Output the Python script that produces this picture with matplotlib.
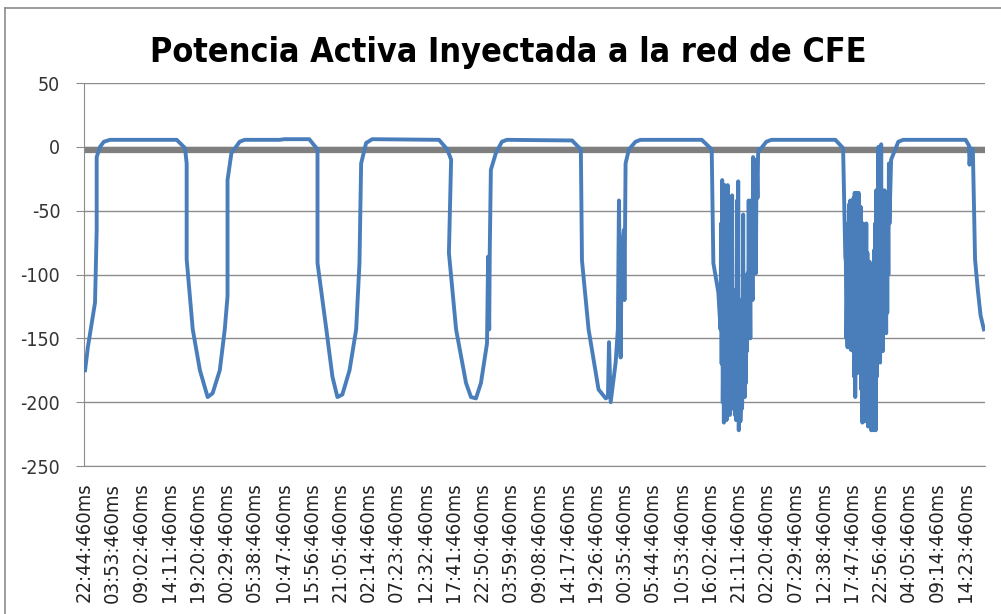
import matplotlib
matplotlib.use("Agg")
import matplotlib.pyplot as plt
from matplotlib.lines import Line2D

plt.rcParams["axes.unicode_minus"] = False

# etiquetas del eje x (cada 5 h 09 min)
etiquetas = [
    "22:44:460ms", "03:53:460ms", "09:02:460ms", "14:11:460ms", "19:20:460ms",
    "00:29:460ms", "05:38:460ms", "10:47:460ms", "15:56:460ms", "21:05:460ms",
    "02:14:460ms", "07:23:460ms", "12:32:460ms", "17:41:460ms", "22:50:460ms",
    "03:59:460ms", "09:08:460ms", "14:17:460ms", "19:26:460ms", "00:35:460ms",
    "05:44:460ms", "10:53:460ms", "16:02:460ms", "21:11:460ms", "02:20:460ms",
    "07:29:460ms", "12:38:460ms", "17:47:460ms", "22:56:460ms", "04:05:460ms",
    "09:14:460ms", "14:23:460ms",
]
paso_h = 5.15  # horas entre etiquetas

# potencia activa (kW) vs horas desde el inicio
horas = [
    0.2, 0.7, 2.0, 2.3, 2.3, 2.9, 3.6, 4.7, 16.8, 18.3, 18.6, 18.6, 19.7, 21.0,
    22.4, 23.3, 24.6, 25.5, 26.0, 26.0, 26.7, 28.2, 29.1, 35.4, 36.3, 40.8,
    42.3, 42.3, 43.9, 45.0, 45.9, 46.8, 48.1, 49.3, 49.9, 50.2, 51.1, 52.2,
    64.3, 65.8, 66.5, 66.1, 67.4, 69.2, 70.1, 71.0, 71.9, 73.0, 73.2, 73.4,
    73.5, 73.7, 74.6, 75.7, 76.6, 88.4, 90.0, 90.2, 91.4, 93.2, 94.5, 94.9,
    95.1, 95.4, 96.3, 96.7, 96.9, 97.0, 97.2, 97.4, 97.8, 97.9, 98.1, 98.7,
    99.9, 100.8, 111.9, 113.7, 114.0, 114.9,
    # tramo con oscilaciones 1
    115.3, 115.4, 115.5, 115.6, 115.7, 115.8, 115.9, 116.0, 116.1, 116.2,
    116.3, 116.4, 116.5, 116.6, 116.7, 116.8, 116.9, 117.0, 117.1, 117.2,
    117.3, 117.4, 117.5, 117.6, 117.7, 117.8, 117.9, 118.0, 118.1, 118.2,
    118.3, 118.4, 118.5, 118.6, 118.7, 118.8, 118.9, 119.0, 119.1, 119.2,
    119.3, 119.4, 119.5, 119.6, 119.7, 119.8, 119.9, 120.0, 120.1, 120.2,
    120.3, 120.4, 120.5, 120.6, 120.7, 120.8, 120.9, 121.0, 121.1, 121.2,
    121.3, 121.4, 121.5, 121.6, 121.7, 121.8, 121.9, 122.0, 122.1, 122.2,
    122.5, 123.6, 124.5, 136.1, 137.5, 137.9,
    # tramo con oscilaciones 2
    138.0, 138.1, 138.2, 138.3, 138.4, 138.5, 138.6, 138.7, 138.8, 138.9,
    139.0, 139.1, 139.2, 139.3, 139.4, 139.5, 139.6, 139.7, 139.8, 139.9,
    140.0, 140.1, 140.2, 140.3, 140.4, 140.5, 140.6, 140.7, 140.8, 140.9,
    141.0, 141.1, 141.2, 141.3, 141.4, 141.5, 141.6, 141.7, 141.8, 141.9,
    142.0, 142.1, 142.2, 142.3, 142.4, 142.5, 142.6, 142.7, 142.8, 142.9,
    143.0, 143.1, 143.2, 143.3, 143.4, 143.5, 143.6, 143.7, 143.8, 143.9,
    144.0, 144.1, 144.2, 144.3, 144.4, 144.5, 144.6, 144.7, 144.8, 144.9,
    145.0, 145.1, 145.2, 145.3, 145.4, 145.5, 145.6, 145.7, 145.8, 145.9,
    146.0, 146.2, 147.5, 148.4,
    159.7, 160.3, 160.4, 160.6, 161.0, 161.4, 161.9, 162.4, 163.0,
]
potencia = [
    -175, -157, -122, -65, -8, 0, 4, 5.5, 5.5, -1, -13, -88, -143, -175,
    -196, -193, -175, -143, -117, -26, -5, 4, 5.5, 5.5, 6, 6,
    -2, -91, -143, -180, -196, -194, -175, -143, -91, -13, 3, 6,
    5.5, -2, -10, -83, -143, -185, -196, -197, -185, -154, -86, -143,
    -81, -18, -5, 4, 5.5, 5, -2, -89, -143, -190, -197, -196,
    -153, -200, -169, -143, -42, -81, -165, -81, -65, -120, -13, -2,
    4, 5.5, 5.5, -2, -91, -114,
    # tramo con oscilaciones 1
    -143, -60, -170, -26, -200, -150, -216, -180, -30, -190,
    -140, -214, -160, -30, -206, -175, -120, -210, -73, -190,
    -150, -38, -205, -160, -200, -112, -210, -130, -214, -170,
    -42, -200, -27, -222, -180, -143, -215, -198, -120, -205,
    -183, -53, -190, -167, -196, -140, -185, -112, -160, -99,
    -150, -42, -130, -99, -150, -42, -99, -60, -120, -8,
    -42, -80, -10, -60, -99, -30, -18, -40, -6, -2,
    -2, 4, 5.5, 5.5, -1, -86,
    # tramo con oscilaciones 2
    -90, -150, -120, -157, -60, -155, -45, -140, -42, -159,
    -100, -150, -50, -160, -40, -180, -36, -196, -120, -36,
    -170, -60, -177, -36, -160, -81, -175, -47, -190, -100,
    -216, -60, -200, -90, -215, -81, -180, -60, -210, -83,
    -219, -104, -200, -90, -214, -120, -222, -100, -220, -150,
    -222, -81, -210, -60, -222, -34, -180, -120, -150, 0,
    -150, -120, -169, -90, 2, -140, -57, -160, -89, -140,
    -34, -120, -81, -146, -42, -130, -40, -100, -13, -60,
    -42, -10, 4, 5.5,
    5.5, 1, -14, -1, -2, -88, -112, -132, -143,
]

# linea de referencia (gris)
ref_horas = [0.0, 163.2]
ref_valor = [-2.5, -2.5]

fig = plt.figure(figsize=(10.01, 6.14), dpi=100)
ax = fig.add_axes([0.0839, 0.241, 0.9001, 0.6238])

ax.plot(ref_horas, ref_valor, color="#7f7f7f", lw=4.5, solid_capstyle="butt", zorder=2)
ax.plot(horas, potencia, color="#4a7ebb", lw=2.8, solid_joinstyle="round", zorder=3)

ax.set_ylim(-250, 50)
ax.set_yticks([50, 0, -50, -100, -150, -200, -250])
ax.set_xlim(0, 163.2)
ax.set_xticks([i * paso_h for i in range(len(etiquetas))])
ax.set_xticklabels(etiquetas, rotation=90, fontsize=14.5, color="#222222",
                   family="DejaVu Sans", fontstretch="condensed")
ax.grid(axis="y", color="#8c8c8c", lw=1)
ax.set_axisbelow(True)

for lado in ["top", "right"]:
    ax.spines[lado].set_visible(False)
ax.spines["left"].set_color("#8c8c8c")
ax.spines["bottom"].set_color("#8c8c8c")
ax.tick_params(axis="y", length=6, color="#8c8c8c", labelsize=14, labelcolor="#333333", pad=11)
ax.tick_params(axis="x", length=0, pad=12)
for t in ax.get_yticklabels():
    t.set_family("DejaVu Sans")
    t.set_fontstretch("condensed")

fig.text(0.508, 0.915, "Potencia Activa Inyectada a la red de CFE", ha="center", va="center",
         fontsize=24.5, fontweight="bold", family="DejaVu Sans", fontstretch="condensed")

# marco exterior del grafico
fig.add_artist(Line2D([5 / 1001, 5 / 1001], [0, 1 - 8 / 614], transform=fig.transFigure,
                      color="#8c8c8c", lw=1.2))
fig.add_artist(Line2D([5 / 1001, 1], [1 - 8 / 614, 1 - 8 / 614], transform=fig.transFigure,
                      color="#8c8c8c", lw=1.2))

fig.savefig("out.png", dpi=100)
